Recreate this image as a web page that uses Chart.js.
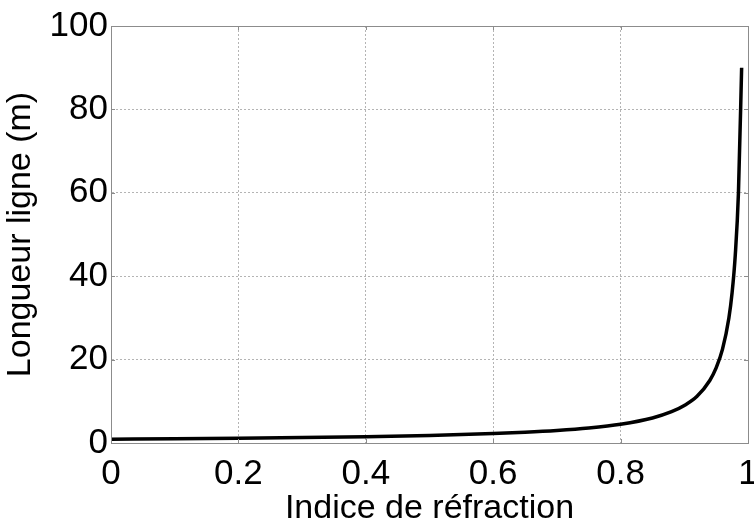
<!DOCTYPE html>
<html>
<head>
<meta charset="utf-8">
<script src="https://cdn.jsdelivr.net/npm/chart.js@4/dist/chart.umd.min.js"></script>
<style>
  html, body { margin: 0; padding: 0; background: #fff; }
  #wrap { width: 754px; height: 526px; }
</style>
</head>
<body>
<div id="wrap"><canvas id="chart" width="754" height="526"></canvas></div>
<script>
// indice de réfraction / longueur de ligne
const indices = [0, 0.1, 0.2, 0.3, 0.4, 0.5, 0.6, 0.65, 0.7, 0.75, 0.8, 0.85, 0.88, 0.9, 0.92, 0.94, 0.95, 0.96, 0.97, 0.975, 0.98, 0.985, 0.99];
const longueurs = [0.9, 1.0, 1.13, 1.29, 1.5, 1.8, 2.25, 2.57, 3.0, 3.6, 4.5, 6.0, 7.5, 9.0, 11.2, 15, 18, 22.5, 30, 36, 45, 60, 90];

const xTicks = [0, 0.2, 0.4, 0.6, 0.8, 1];
const yTicks = [0, 20, 40, 60, 80, 100];

const FONT = '"Liberation Sans", Arial, sans-serif';

// cadre complet + petites graduations vers l'intérieur
const boxPlugin = {
  id: 'box',
  afterDatasetsDraw(chart) {
    const { ctx, chartArea: a, scales } = chart;
    ctx.save();
    ctx.strokeStyle = '#8c8c8c';
    ctx.lineWidth = 1;
    ctx.beginPath();
    xTicks.forEach((v) => {
      const px = Math.round(scales.x.getPixelForValue(v)) + 0.5;
      ctx.moveTo(px, a.bottom); ctx.lineTo(px, a.bottom - 4);
      ctx.moveTo(px, a.top); ctx.lineTo(px, a.top + 4);
    });
    yTicks.forEach((v) => {
      const py = Math.round(scales.y.getPixelForValue(v)) + 0.5;
      ctx.moveTo(a.left, py); ctx.lineTo(a.left + 4, py);
      ctx.moveTo(a.right, py); ctx.lineTo(a.right - 4, py);
    });
    ctx.stroke();
    ctx.strokeRect(Math.round(a.left) + 0.5, Math.round(a.top) + 0.5,
      Math.round(a.right - a.left), Math.round(a.bottom - a.top));
    ctx.restore();
  },
};

new Chart(document.getElementById('chart'), {
  type: 'line',
  data: {
    datasets: [{
      data: indices.map((x, i) => ({ x, y: longueurs[i] })),
      borderColor: '#000',
      borderWidth: 3.5,
      pointRadius: 0,
      tension: 0.3,
      cubicInterpolationMode: 'monotone',
      clip: false,
    }],
  },
  options: {
    responsive: false,
    animation: false,
    layout: { padding: { top: 26, right: 6, left: 0, bottom: 0 } },
    plugins: { legend: { display: false }, tooltip: { enabled: false } },
    scales: {
      x: {
        type: 'linear',
        min: 0,
        max: 1,
        afterBuildTicks: (s) => { s.ticks = xTicks.map((value) => ({ value })); },
        afterFit: (s) => { s.height = 83; s.paddingLeft = 0; s.paddingRight = 0; },
        ticks: {
          color: '#000',
          font: { family: FONT, size: 35 },
          padding: 10,
          maxRotation: 0,
          callback: (v) => String(v),
        },
        grid: { color: '#b4b4b4', tickLength: 0, lineWidth: 1 },
        border: { color: '#8c8c8c', dash: [2, 2] },
        title: {
          display: true,
          text: 'Indice de réfraction',
          color: '#000',
          font: { family: FONT, size: 34, lineHeight: 1.0 },
          padding: { top: 0, bottom: 0 },
        },
      },
      y: {
        min: 0,
        max: 100,
        afterBuildTicks: (s) => { s.ticks = yTicks.map((value) => ({ value })); },
        afterFit: (s) => { s.width = 111; s.paddingTop = 0; s.paddingBottom = 0; },
        ticks: {
          color: '#000',
          font: { family: FONT, size: 35 },
          padding: 3,
        },
        grid: { color: '#b4b4b4', tickLength: 0, lineWidth: 1 },
        border: { color: '#8c8c8c', dash: [2, 2] },
        title: {
          display: true,
          text: 'Longueur ligne (m)',
          color: '#000',
          font: { family: FONT, size: 34 },
          padding: { top: 0, bottom: 0 },
        },
      },
    },
  },
  plugins: [boxPlugin],
});
</script>
</body>
</html>
